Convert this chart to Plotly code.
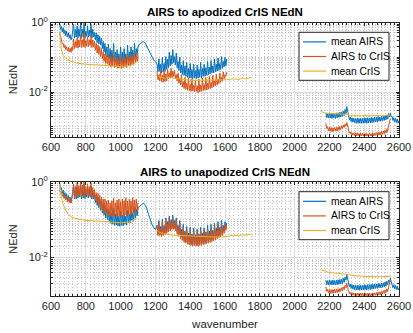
import plotly.graph_objects as go

# ---------------- data (log10 of NEdN) ----------------
# wavenumber sample positions (cm^-1) of each spectral band
XA = list(range(650, 1101, 5))            # AIRS band 1
XS = [1110, 1120, 1130, 1140, 1150, 1160, 1170, 1180, 1190, 1200]  # smooth AIRS stretch
XB = list(range(1210, 1611, 5))           # AIRS band 2
XC = list(range(2180, 2601, 5))           # AIRS band 3
XC_RED = list(range(2180, 2551, 5))
YXA = [650, 655, 660, 670, 680, 690, 700, 720, 750, 800, 850, 900, 950, 1000, 1050, 1080, 1095]
YXB = [1210, 1220, 1250, 1280, 1300, 1350, 1400, 1450, 1500, 1550, 1600, 1650, 1680, 1700, 1720, 1750]
YXC = [2150, 2170, 2200, 2250, 2300, 2320, 2350, 2400, 2450, 2500, 2550]

# --- apodized panel ---
apod_airs_A = [-0.05, -0.2, -0.12, -0.28, -0.15, -0.32, -0.22, -0.38, -0.25, -0.42,
               -0.3, -0.45, -0.35, -0.5, -0.42, -0.25, -0.05, -0.45, -0.2, -0.42,
               -0.1, -0.45, -0.18, -0.4, 0.0, -0.44, -0.2, -0.42, -0.02, -0.45,
               -0.25, -0.4, -0.1, -0.42, -0.22, -0.38, -0.05, -0.45, -0.2, -0.42,
               -0.28, -0.5, -0.3, -0.58, -0.35, -0.62, -0.4, -0.65, -0.45, -0.75,
               -0.55, -0.85, -0.6, -0.95, -0.7, -1.0, -0.62, -1.05, -0.75, -1.12,
               -0.8, -1.1, -0.6, -1.15, -0.85, -1.12, -0.78, -1.18, -0.9, -1.2,
               -0.7, -1.15, -0.85, -1.2, -0.75, -1.12, -0.9, -1.18, -0.65, -1.1,
               -0.85, -1.12, -0.7, -1.05, -0.8, -1.1, -0.6, -1.0, -0.75, -0.95,
               -0.68]
apod_airs_S = [-0.62, -0.57, -0.55, -0.58, -0.68, -0.8, -0.92, -1.02, -1.08, -1.12]
apod_airs_B = [-1.2, -1.42, -1.05, -1.4, -1.2, -1.45, -1.0, -1.42, -1.18, -1.4,
               -0.98, -1.35, -1.05, -1.3, -0.85, -1.25, -0.95, -1.2, -0.78, -1.15,
               -0.98, -1.22, -0.88, -1.3, -1.12, -1.38, -1.0, -1.45, -1.22, -1.5,
               -1.1, -1.52, -1.25, -1.55, -1.15, -1.58, -1.32, -1.6, -1.18, -1.6,
               -1.35, -1.62, -1.2, -1.6, -1.38, -1.62, -1.22, -1.6, -1.35, -1.58,
               -1.15, -1.6, -1.32, -1.55, -1.2, -1.55, -1.3, -1.52, -1.12, -1.5,
               -1.28, -1.48, -1.1, -1.45, -1.25, -1.45, -1.05, -1.42, -1.2, -1.4,
               -1.02, -1.38, -1.18, -1.35, -0.98, -1.32, -1.12, -1.28, -1.0, -1.25,
               -1.05]
apod_airs_C = [-2.6, -2.74, -2.62, -2.75, -2.6, -2.74, -2.62, -2.76, -2.61, -2.75,
               -2.62, -2.76, -2.6, -2.74, -2.6, -2.73, -2.58, -2.72, -2.57, -2.7,
               -2.55, -2.68, -2.5, -2.62, -2.42, -2.6, -2.68, -2.8, -2.72, -2.85,
               -2.74, -2.87, -2.75, -2.88, -2.76, -2.9, -2.75, -2.9, -2.76, -2.9,
               -2.75, -2.9, -2.76, -2.9, -2.74, -2.89, -2.75, -2.9, -2.74, -2.88,
               -2.75, -2.89, -2.73, -2.88, -2.74, -2.87, -2.72, -2.86, -2.73, -2.86,
               -2.71, -2.84, -2.72, -2.84, -2.7, -2.83, -2.7, -2.82, -2.68, -2.8,
               -2.66, -2.78, -2.62, -2.72, -2.6, -2.7, -2.7, -2.82, -2.74, -2.86,
               -2.76, -2.88, -2.78, -2.9, -2.82]
apod_a2c_A = [-0.28, -0.45, -0.5, -0.62, -0.6, -0.72, -0.65, -0.78, -0.7, -0.82,
              -0.72, -0.85, -0.74, -0.86, -0.7, -0.8, -0.48, -0.75, -0.55, -0.72,
              -0.45, -0.74, -0.5, -0.7, -0.35, -0.72, -0.5, -0.7, -0.3, -0.72,
              -0.52, -0.68, -0.42, -0.7, -0.5, -0.66, -0.38, -0.72, -0.5, -0.7,
              -0.55, -0.8, -0.6, -0.88, -0.65, -0.92, -0.7, -0.98, -0.75, -1.05,
              -0.85, -1.12, -0.9, -1.18, -0.95, -1.2, -0.92, -1.25, -1.0, -1.28,
              -1.02, -1.25, -0.85, -1.3, -1.05, -1.28, -1.0, -1.32, -1.08, -1.3,
              -0.95, -1.32, -1.05, -1.3, -0.98, -1.28, -1.05, -1.3, -0.9, -1.25,
              -1.0, -1.26, -0.92, -1.22, -1.0, -1.2, -0.85, -1.15, -0.95, -1.12,
              -0.92]
apod_a2c_B = [-1.42, -1.65, -1.5, -1.68, -1.38, -1.7, -1.52, -1.72, -1.4, -1.7,
              -1.48, -1.68, -1.35, -1.62, -1.45, -1.6, -1.32, -1.58, -1.4, -1.55,
              -1.38, -1.62, -1.5, -1.68, -1.45, -1.75, -1.6, -1.8, -1.52, -1.85,
              -1.7, -1.9, -1.58, -1.92, -1.75, -1.95, -1.6, -1.96, -1.78, -1.98,
              -1.62, -1.97, -1.8, -2.0, -1.65, -1.98, -1.82, -2.02, -1.62, -2.0,
              -1.8, -1.98, -1.6, -1.96, -1.78, -1.95, -1.58, -1.94, -1.75, -1.92,
              -1.55, -1.9, -1.72, -1.88, -1.52, -1.85, -1.68, -1.82, -1.48, -1.8,
              -1.62, -1.76, -1.45, -1.72, -1.58, -1.68, -1.42, -1.62, -1.5, -1.55,
              -1.42]
apod_a2c_C = [-2.9, -3.05, -3.0, -3.12, -3.02, -3.13, -3.02, -3.14, -3.03, -3.13,
              -3.02, -3.12, -3.02, -3.12, -3.0, -3.1, -2.99, -3.08, -2.97, -3.06,
              -2.95, -3.02, -2.92, -2.98, -2.88, -3.0, -3.08, -3.18, -3.15, -3.22,
              -3.17, -3.24, -3.18, -3.25, -3.17, -3.26, -3.18, -3.26, -3.19, -3.27,
              -3.18, -3.27, -3.19, -3.27, -3.2, -3.27, -3.19, -3.27, -3.2, -3.27,
              -3.19, -3.26, -3.2, -3.27, -3.18, -3.26, -3.18, -3.25, -3.17, -3.25,
              -3.16, -3.24, -3.15, -3.23, -3.14, -3.22, -3.12, -3.2, -3.1, -3.18,
              -3.06, -3.14, -2.98, -2.9, -2.76]
apod_cris_A = [-0.24, -0.6, -0.8, -0.95, -1.02, -1.06, -1.09, -1.12, -1.17, -1.2,
               -1.22, -1.25, -1.27, -1.27, -1.24, -1.18, -1.12]
apod_cris_B = [-1.5, -1.56, -1.6, -1.58, -1.6, -1.63, -1.66, -1.66, -1.66, -1.66,
               -1.65, -1.62, -1.64, -1.6, -1.62, -1.58]
apod_cris_C = [-2.55, -2.6, -2.62, -2.63, -2.64, -2.68, -2.68, -2.7, -2.7, -2.68, -2.66]

# --- unapodized panel ---
unap_airs_A = [-0.05, -0.2, -0.15, -0.3, -0.22, -0.38, -0.28, -0.42, -0.32, -0.48,
               -0.36, -0.52, -0.4, -0.55, -0.42, -0.3, -0.1, -0.45, -0.2, -0.45,
               -0.12, -0.42, -0.2, -0.4, -0.05, -0.45, -0.2, -0.42, -0.05, -0.44,
               -0.22, -0.4, -0.12, -0.42, -0.2, -0.4, -0.1, -0.45, -0.22, -0.45,
               -0.3, -0.55, -0.35, -0.62, -0.4, -0.68, -0.45, -0.75, -0.5, -0.82,
               -0.58, -0.88, -0.62, -0.95, -0.7, -1.0, -0.72, -1.05, -0.78, -1.1,
               -0.82, -1.12, -0.7, -1.15, -0.85, -1.14, -0.82, -1.17, -0.9, -1.17,
               -0.78, -1.15, -0.88, -1.16, -0.82, -1.12, -0.9, -1.14, -0.75, -1.08,
               -0.85, -1.08, -0.75, -1.02, -0.82, -1.02, -0.68, -0.95, -0.72, -0.9,
               -0.7]
unap_airs_S = [-0.64, -0.59, -0.56, -0.6, -0.7, -0.85, -1.0, -1.12, -1.2, -1.26]
unap_airs_B = [-1.15, -1.38, -1.02, -1.38, -1.18, -1.4, -0.98, -1.38, -1.15, -1.36,
               -0.95, -1.32, -1.05, -1.28, -0.9, -1.25, -1.0, -1.22, -0.88, -1.2,
               -1.02, -1.25, -0.95, -1.32, -1.15, -1.38, -1.02, -1.45, -1.25, -1.5,
               -1.12, -1.55, -1.3, -1.58, -1.18, -1.6, -1.35, -1.62, -1.2, -1.64,
               -1.38, -1.65, -1.22, -1.64, -1.4, -1.66, -1.25, -1.65, -1.38, -1.64,
               -1.2, -1.62, -1.36, -1.62, -1.22, -1.6, -1.32, -1.58, -1.15, -1.56,
               -1.3, -1.54, -1.12, -1.52, -1.28, -1.5, -1.1, -1.48, -1.22, -1.45,
               -1.05, -1.42, -1.2, -1.4, -1.02, -1.36, -1.15, -1.3, -1.05, -1.25,
               -1.08]
unap_airs_C = [-2.6, -2.72, -2.61, -2.73, -2.6, -2.72, -2.61, -2.73, -2.6, -2.72,
               -2.61, -2.73, -2.6, -2.72, -2.59, -2.71, -2.58, -2.7, -2.57, -2.69,
               -2.55, -2.66, -2.52, -2.6, -2.46, -2.6, -2.66, -2.78, -2.7, -2.82,
               -2.72, -2.84, -2.73, -2.85, -2.74, -2.86, -2.73, -2.86, -2.74, -2.86,
               -2.73, -2.86, -2.74, -2.86, -2.72, -2.85, -2.73, -2.86, -2.72, -2.84,
               -2.72, -2.85, -2.71, -2.84, -2.71, -2.83, -2.7, -2.82, -2.7, -2.82,
               -2.69, -2.8, -2.69, -2.8, -2.68, -2.79, -2.67, -2.78, -2.65, -2.76,
               -2.63, -2.72, -2.6, -2.66, -2.55, -2.66, -2.68, -2.8, -2.72, -2.83,
               -2.74, -2.85, -2.76, -2.86, -2.8]
unap_a2c_A = [-0.2, -0.3, -0.28, -0.38, -0.32, -0.44, -0.36, -0.48, -0.4, -0.52,
              -0.42, -0.55, -0.44, -0.56, -0.42, -0.3, -0.05, -0.42, -0.12, -0.4,
              -0.02, -0.38, -0.1, -0.36, 0.0, -0.4, -0.08, -0.38, 0.0, -0.36,
              -0.12, -0.35, -0.05, -0.38, -0.12, -0.36, -0.02, -0.4, -0.15, -0.4,
              -0.2, -0.48, -0.28, -0.55, -0.3, -0.6, -0.35, -0.68, -0.4, -0.75,
              -0.45, -0.8, -0.45, -0.85, -0.5, -0.88, -0.48, -0.9, -0.55, -0.92,
              -0.5, -0.9, -0.42, -0.92, -0.55, -0.9, -0.48, -0.92, -0.45, -0.9,
              -0.52, -0.92, -0.45, -0.9, -0.5, -0.88, -0.42, -0.9, -0.5, -0.88,
              -0.45, -0.86, -0.5, -0.85, -0.42, -0.82, -0.48, -0.8, -0.45, -0.78,
              -0.55]
unap_a2c_B = [-1.18, -1.42, -1.08, -1.42, -1.25, -1.45, -1.05, -1.42, -1.22, -1.4,
              -1.0, -1.36, -1.12, -1.32, -0.95, -1.3, -1.08, -1.26, -0.96, -1.25,
              -1.1, -1.3, -1.0, -1.38, -1.22, -1.44, -1.1, -1.5, -1.32, -1.55,
              -1.2, -1.6, -1.38, -1.62, -1.25, -1.65, -1.42, -1.67, -1.28, -1.68,
              -1.45, -1.7, -1.3, -1.68, -1.46, -1.7, -1.32, -1.7, -1.45, -1.68,
              -1.28, -1.68, -1.42, -1.66, -1.28, -1.65, -1.4, -1.63, -1.25, -1.62,
              -1.38, -1.6, -1.22, -1.58, -1.35, -1.56, -1.18, -1.54, -1.3, -1.5,
              -1.15, -1.48, -1.28, -1.45, -1.12, -1.42, -1.22, -1.36, -1.12, -1.28,
              -1.18]
unap_a2c_C = [-2.78, -2.9, -2.84, -2.94, -2.85, -2.95, -2.85, -2.95, -2.85, -2.94,
              -2.84, -2.94, -2.84, -2.93, -2.83, -2.92, -2.82, -2.9, -2.8, -2.88,
              -2.78, -2.85, -2.74, -2.8, -2.68, -2.82, -2.88, -2.96, -2.92, -2.98,
              -2.93, -3.0, -2.94, -3.0, -2.94, -3.01, -2.94, -3.01, -2.95, -3.01,
              -2.94, -3.01, -2.95, -3.02, -2.95, -3.01, -2.95, -3.02, -2.95, -3.01,
              -2.95, -3.02, -2.95, -3.01, -2.94, -3.01, -2.94, -3.0, -2.93, -3.0,
              -2.92, -2.99, -2.91, -2.98, -2.9, -2.97, -2.88, -2.95, -2.86, -2.93,
              -2.83, -2.9, -2.76, -2.7, -2.6]
unap_cris_A = [-0.05, -0.25, -0.42, -0.6, -0.72, -0.8, -0.86, -0.93, -0.98, -1.02,
               -1.03, -1.05, -1.07, -1.08, -1.06, -1.0, -0.95]
unap_cris_B = [-1.28, -1.33, -1.37, -1.39, -1.41, -1.42, -1.43, -1.44, -1.44, -1.46,
               -1.45, -1.41, -1.43, -1.4, -1.41, -1.38]
unap_cris_C = [-2.32, -2.36, -2.4, -2.42, -2.45, -2.48, -2.48, -2.5, -2.51, -2.51, -2.5]

SERIES_NAMES = ["mean AIRS", "AIRS to CrIS", "mean CrIS"]
TITLES = ["AIRS to apodized CrIS NEdN", "AIRS to unapodized CrIS NEdN"]
X_TICKS = [600, 800, 1000, 1200, 1400, 1600, 1800, 2000, 2200, 2400, 2600]
Y_TICKS = [1e-2, 1e0]
Y_TICKTEXT = ["10<sup>-2</sup>", "10<sup>0</sup>"]

# ---------------- helpers ----------------
def join(xsegs, ysegs):
    xs, ys = [], []
    for i, (xx, yy) in enumerate(zip(xsegs, ysegs)):
        assert len(xx) == len(yy), (len(xx), len(yy))
        if i:
            xs.append(None); ys.append(None)
        xs += list(xx); ys += [10 ** v for v in yy]
    return xs, ys

COLORS = ["#0072BD", "#D95319", "#EDB120"]
W, H = 413, 333

def px_y(p):
    return 1 - p / H

def px_x(p):
    return p / W

panels = [
    dict(airs=[(XA + XS + XB, apod_airs_A + apod_airs_S + apod_airs_B), (XC, apod_airs_C)],
         a2c=[(XA, apod_a2c_A), (XB, apod_a2c_B), (XC_RED, apod_a2c_C)],
         cris=[(YXA, apod_cris_A), (YXB, apod_cris_B), (YXC, apod_cris_C)],
         top=22.5, bottom=136.5, yr=[-3.28, 0.0], legtop=32.3),
    dict(airs=[(XA + XS + XB, unap_airs_A + unap_airs_S + unap_airs_B), (XC, unap_airs_C)],
         a2c=[(XA, unap_a2c_A), (XB, unap_a2c_B), (XC_RED, unap_a2c_C)],
         cris=[(YXA, unap_cris_A), (YXB, unap_cris_B), (YXC, unap_cris_C)],
         top=182.0, bottom=296.0, yr=[-3.02, 0.0], legtop=191.7),
]

fig = go.Figure()
FONT = "Liberation Sans, Arial, Helvetica, sans-serif"
TXT = "#262626"
x_minor = [v for v in range(600, 2601, 25) if v % 200]
y_minor = [m * 10 ** e for e in range(-4, 1) for m in range(1, 10) if m * 10 ** e < 1.01]
y_minor = [v for v in y_minor if v not in (0.01, 1)]

layout = dict(width=W, height=H, margin=dict(l=0, r=0, t=0, b=0, autoexpand=False),
              paper_bgcolor="white", plot_bgcolor="white", showlegend=False,
              font=dict(family=FONT, size=11, color=TXT), annotations=[], shapes=[])

for i, p in enumerate(panels):
    n = "" if i == 0 else str(i + 1)
    xa, ya = "x" + n, "y" + n
    for k, key in enumerate(["airs", "a2c", "cris"]):
        xs, ys = join([s[0] for s in p[key]], [s[1] for s in p[key]])
        fig.add_trace(go.Scatter(x=xs, y=ys, mode="lines", name=SERIES_NAMES[k],
                                 line=dict(color=COLORS[k], width=1),
                                 connectgaps=False, xaxis=xa, yaxis=ya))
    axis_common = dict(showline=True, linecolor=TXT, linewidth=1, mirror="allticks",
                       ticks="inside", ticklen=3, tickcolor=TXT, zeroline=False,
                       showgrid=True, gridcolor="#DCDCDC", gridwidth=1, automargin=False,
                       tickfont=dict(family=FONT, size=11, color=TXT))
    minor_common = dict(ticks="inside", ticklen=2, tickcolor=TXT, showgrid=True,
                        griddash="1px,2px", gridcolor="#C4C4C4", gridwidth=1)
    xdef = dict(axis_common, domain=[51 / W, 399 / W], range=[600, 2600],
                tickvals=X_TICKS, anchor=ya,
                minor=dict(minor_common, tickvals=x_minor))
    if i == 1:
        xdef["title"] = dict(text="wavenumber", font=dict(size=11.5, family=FONT, color=TXT),
                             standoff=8)
    layout["xaxis" + n] = xdef
    layout["yaxis" + n] = dict(axis_common, type="log", range=p["yr"],
                               domain=[px_y(p["bottom"]), px_y(p["top"])],
                               tickvals=Y_TICKS, ticktext=Y_TICKTEXT, anchor=xa,
                               minor=dict(minor_common, tickvals=y_minor),
                               title=dict(text="NEdN", font=dict(size=11, family=FONT, color=TXT),
                                          standoff=8))
    # title
    layout["annotations"].append(dict(text="<b>" + TITLES[i] + "</b>", x=225 / W, xref="paper",
                                      y=px_y(p["top"] - 10.5), yref="paper", showarrow=False,
                                      font=dict(family=FONT, size=11.5, color="black"),
                                      xanchor="center", yanchor="middle"))
    # legend box (drawn like the MATLAB legend)
    lt = p["legtop"]
    layout["shapes"].append(dict(type="rect", xref="paper", yref="paper",
                                 x0=px_x(299), x1=px_x(389), y0=px_y(lt), y1=px_y(lt + 48),
                                 line=dict(color=TXT, width=1), fillcolor="white", layer="above"))
    for k in range(3):
        yc = lt + 9.6 + 14.6 * k
        layout["shapes"].append(dict(type="line", xref="paper", yref="paper",
                                     x0=px_x(303), x1=px_x(326), y0=px_y(yc), y1=px_y(yc),
                                     line=dict(color=COLORS[k], width=1.2), layer="above"))
        layout["annotations"].append(dict(text=SERIES_NAMES[k], x=px_x(328.5), xref="paper",
                                          y=px_y(yc), yref="paper", showarrow=False,
                                          xanchor="left", yanchor="middle",
                                          font=dict(family=FONT, size=10.3, color="black")))

fig.update_layout(**layout)
fig.write_html("out.html")
